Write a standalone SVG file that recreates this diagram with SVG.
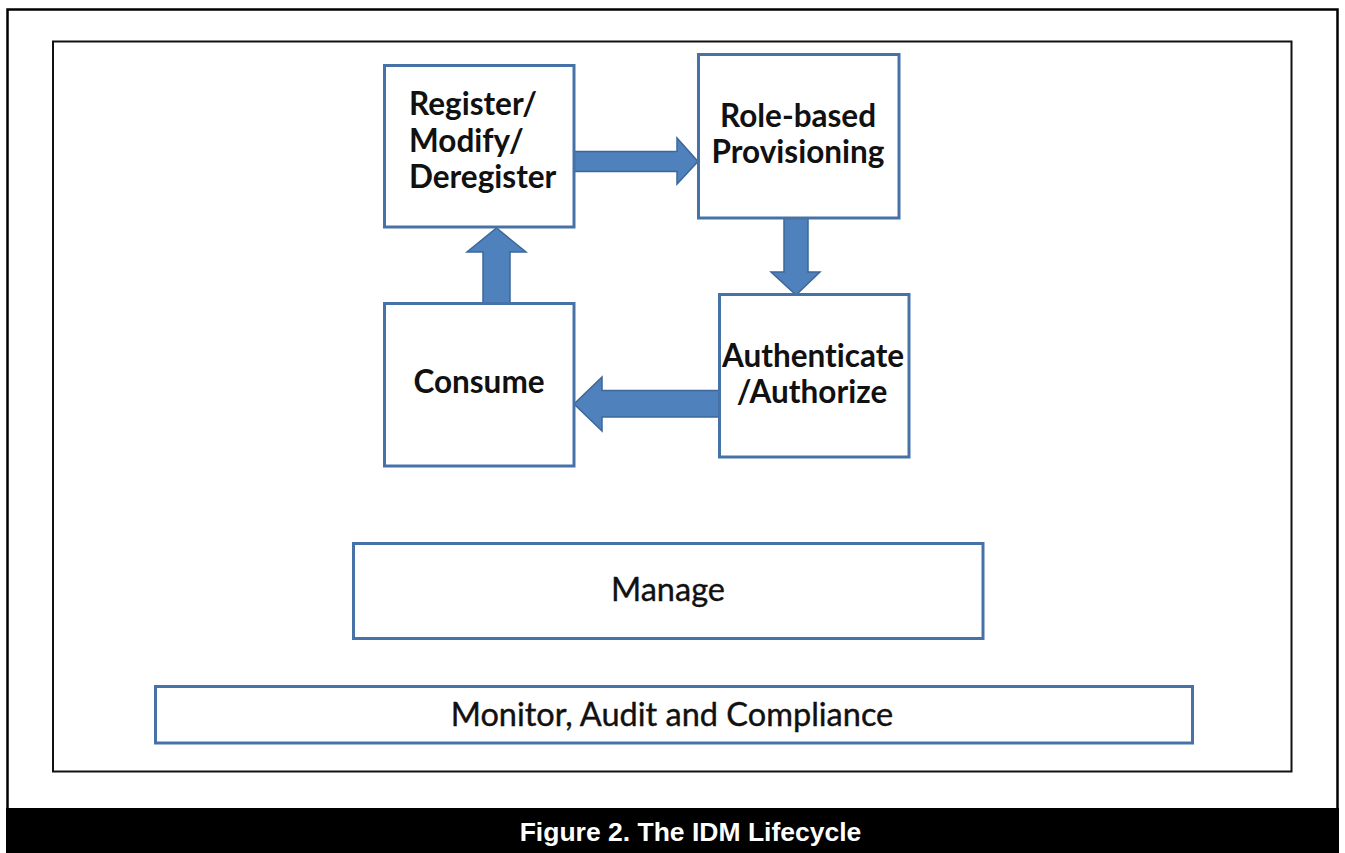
<svg xmlns="http://www.w3.org/2000/svg" width="1345" height="853" viewBox="0 0 1345 853">
<style>
.frame{fill:none;stroke:#000;stroke-width:2.5}
.box{fill:#fff;stroke:#4672a8;stroke-width:3}
.arrow{fill:#4f81bd;stroke:#3d6799;stroke-width:1.5;stroke-linejoin:miter}
.lbl{font-family:Lato,"Open Sans","Liberation Sans",sans-serif;font-size:31.5px;font-weight:700;fill:#111;font-variant-ligatures:none}
.lblr{font-family:Lato,"Open Sans","Liberation Sans",sans-serif;font-size:32.5px;font-weight:400;fill:#111;font-variant-ligatures:none;stroke:#111;stroke-width:0.4}
.cap{font-family:"Liberation Sans",Arial,sans-serif;font-size:26.5px;font-weight:700;fill:#fff}
</style>
<rect width="1345" height="853" fill="#fff"/>
<rect class="frame" x="7.5" y="9.5" width="1330" height="830"/>
<rect x="6" y="808" width="1333" height="45" fill="#000"/>
<rect x="53" y="41.5" width="1238.5" height="730" fill="none" stroke="#111" stroke-width="2"/>
<g id="connectors">
<path class="arrow" d="M574,151.5 H677 V138 L698,161.5 L677,184 V171.5 H574 Z"/>
<path class="arrow" d="M784,218 H808 V272 H820 L796,295 L771,272 H784 Z"/>
<path class="arrow" d="M719,390.5 H602 V377 L574,404 L602,431 V417 H719 Z"/>
<path class="arrow" d="M483,303 V252 H467 L496.5,228 L526,252 H510 V303 Z"/>
</g>
<g id="node-register">
<rect class="box" x="384.5" y="65.5" width="189.5" height="161.5"/>
<text class="lbl" x="409" y="115">Register/</text>
<text class="lbl" x="409" y="152">Modify/</text>
<text class="lbl" x="409" y="188">Deregister</text>
</g>
<g id="node-provisioning">
<rect class="box" x="698.5" y="54.5" width="200.5" height="163.5"/>
<text class="lbl" x="798" y="127" text-anchor="middle">Role-based</text>
<text class="lbl" x="798" y="163" text-anchor="middle">Provisioning</text>
</g>
<g id="node-authenticate">
<rect class="box" x="719.5" y="294.5" width="189.5" height="162.5"/>
<text class="lbl" x="813" y="367" text-anchor="middle">Authenticate</text>
<text class="lbl" x="812" y="403" text-anchor="middle">/Authorize</text>
</g>
<g id="node-consume">
<rect class="box" x="384.5" y="303.5" width="189.5" height="162.5"/>
<text class="lbl" x="479" y="393" text-anchor="middle">Consume</text>
</g>
<g id="node-manage">
<rect class="box" x="353.5" y="543.5" width="629.5" height="95"/>
<text class="lblr" x="668" y="601" text-anchor="middle">Manage</text>
</g>
<g id="node-monitor">
<rect class="box" x="155.5" y="686.5" width="1037" height="56.5"/>
<text class="lblr" x="672" y="726" text-anchor="middle">Monitor, Audit and Compliance</text>
</g>
<text class="cap" x="690.5" y="841" text-anchor="middle">Figure 2. The IDM Lifecycle</text>
</svg>
